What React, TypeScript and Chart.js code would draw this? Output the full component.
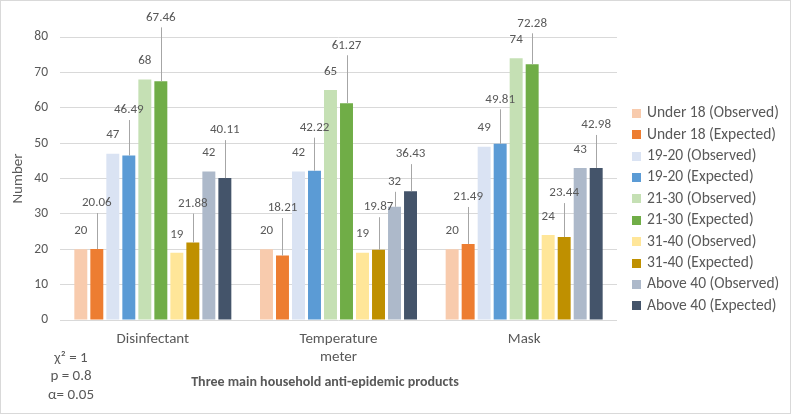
import React, { useEffect, useRef } from "react";
import { Chart, registerables } from "chart.js";

Chart.register(...registerables);

const categories: string[][] = [["Disinfectant"], ["Temperature", "meter"], ["Mask"]];
const seriesNames = [
  "Under 18 (Observed)",
  "Under 18 (Expected)",
  "19-20 (Observed)",
  "19-20 (Expected)",
  "21-30 (Observed)",
  "21-30 (Expected)",
  "31-40 (Observed)",
  "31-40 (Expected)",
  "Above 40 (Observed)",
  "Above 40 (Expected)",
];
const under18Observed = [20, 20, 20];
const under18Expected = [20.06, 18.21, 21.49];
const age1920Observed = [47, 42, 49];
const age1920Expected = [46.49, 42.22, 49.81];
const age2130Observed = [68, 65, 74];
const age2130Expected = [67.46, 61.27, 72.28];
const age3140Observed = [19, 19, 24];
const age3140Expected = [21.88, 19.87, 23.44];
const above40Observed = [42, 32, 43];
const above40Expected = [40.11, 36.43, 42.98];
const yTicks = [0, 10, 20, 30, 40, 50, 60, 70, 80];
const axisTitleY = "Number";
const axisTitleX = "Three main household anti-epidemic products";
const statsLines = ["χ² = 1", "p = 0.8", "α= 0.05"];

const seriesValues = [
  under18Observed, under18Expected,
  age1920Observed, age1920Expected,
  age2130Observed, age2130Expected,
  age3140Observed, age3140Expected,
  above40Observed, above40Expected,
];
const seriesColors = [
  "#F8CBAD", "#ED7D31",
  "#DAE3F3", "#5B9BD5",
  "#C5E0B4", "#70AD47",
  "#FFE699", "#BF9000",
  "#ADB9CA", "#44546A",
];
// label distance (px) above each bar top; larger ones get a leader line
const labelOffsets = [
  [18.5, 18.5, 18.5], [46, 47.5, 47],
  [18.5, 18.5, 18.5], [45.5, 43, 44.5],
  [18.5, 18, 18.5], [64, 58, 41],
  [18.5, 19, 18], [39, 42.5, 44],
  [18.5, 25, 18.5], [48, 37, 43],
];

const FONT = "Carlito, Calibri, Lato, sans-serif";
const TEXT = "#595959";

const decor = {
  id: "decor",
  beforeDraw(chart: any) {
    const ctx = chart.ctx;
    ctx.save();
    ctx.fillStyle = "#ffffff";
    ctx.fillRect(0, 0, chart.width, chart.height);
    ctx.strokeStyle = "#d9d9d9";
    ctx.lineWidth = 1;
    ctx.strokeRect(0.5, 0.5, chart.width - 1, chart.height - 1);
    ctx.restore();
  },
  afterDatasetsDraw(chart: any) {
    const ctx = chart.ctx;
    ctx.save();
    ctx.font = `13px ${FONT}`;
    ctx.textAlign = "center";
    ctx.textBaseline = "middle";
    chart.data.datasets.forEach((ds: any, i: number) => {
      const meta = chart.getDatasetMeta(i);
      meta.data.forEach((bar: any, j: number) => {
        const off = labelOffsets[i][j];
        const x = bar.x;
        const y = bar.y;
        if (off > 22) {
          ctx.strokeStyle = "#a6a6a6";
          ctx.lineWidth = 1;
          ctx.beginPath();
          ctx.moveTo(Math.round(x) + 0.5, y);
          ctx.lineTo(Math.round(x) + 0.5, y - off + 10);
          ctx.stroke();
        }
        ctx.fillStyle = TEXT;
        ctx.fillText(String(ds.data[j]), x, y - off);
      });
    });
    ctx.restore();
  },
  afterDraw(chart: any) {
    const ctx = chart.ctx;
    ctx.save();
    // legend
    ctx.font = `15.5px ${FONT}`;
    ctx.textBaseline = "middle";
    ctx.textAlign = "left";
    chart.data.datasets.forEach((ds: any, i: number) => {
      const cy = 113.5 + i * 21.36;
      ctx.fillStyle = ds.backgroundColor;
      ctx.fillRect(632, Math.round(cy - 4.5), 9, 9);
      ctx.fillStyle = TEXT;
      ctx.fillText(ds.label, 647, cy);
    });
    // axis title
    ctx.textAlign = "center";
    ctx.font = `bold 14px ${FONT}`;
    ctx.fillText(axisTitleX, 325, 382.5);
    // stats
    ctx.font = `15px ${FONT}`;
    statsLines.forEach((t, k) => {
      ctx.fillText(t, 71, 358.5 + k * 18.2);
    });
    ctx.restore();
  },
};

export default function App() {
  const ref = useRef<HTMLCanvasElement>(null);
  useEffect(() => {
    const chart = new Chart(ref.current as HTMLCanvasElement, {
      type: "bar",
      data: {
        labels: categories as any,
        datasets: seriesValues.map((vals, i) => ({
          label: seriesNames[i],
          data: vals,
          backgroundColor: seriesColors[i],
          borderWidth: 0,
          categoryPercentage: 0.862,
          barPercentage: 0.81,
        })),
      },
      options: {
        responsive: false,
        animation: false,
        devicePixelRatio: 1,
        layout: { padding: { left: 0, top: 37, right: 174, bottom: 0 } },
        plugins: {
          legend: { display: false },
          tooltip: { enabled: false },
          title: { display: false },
        },
        scales: {
          x: {
            grid: { display: false, drawTicks: false },
            border: { display: false },
            ticks: {
              color: TEXT,
              font: { family: FONT, size: 15, lineHeight: 1.2 },
              padding: 10,
              maxRotation: 0,
              autoSkip: false,
            },
            afterFit(scale: any) {
              scale.height = 94;
            },
          },
          y: {
            min: 0,
            max: 80,
            afterBuildTicks(scale: any) {
              scale.ticks = yTicks.map((v) => ({ value: v }));
            },
            grid: { color: "#d9d9d9", lineWidth: 1, drawTicks: false },
            border: { display: false },
            ticks: {
              color: TEXT,
              font: { family: FONT, size: 13.5 },
              padding: 12,
            },
            title: {
              display: true,
              text: axisTitleY,
              color: TEXT,
              font: { family: FONT, size: 15 },
              padding: { top: 9, bottom: 4 },
            },
            afterFit(scale: any) {
              scale.width = 60;
            },
          },
        },
      },
      plugins: [decor],
    });
    return () => chart.destroy();
  }, []);
  return (
    <div style={{ position: "fixed", left: 0, top: 0, width: 791, height: 414 }}>
      <canvas ref={ref} width={791} height={414} style={{ display: "block", width: 791, height: 414 }} />
    </div>
  );
}
